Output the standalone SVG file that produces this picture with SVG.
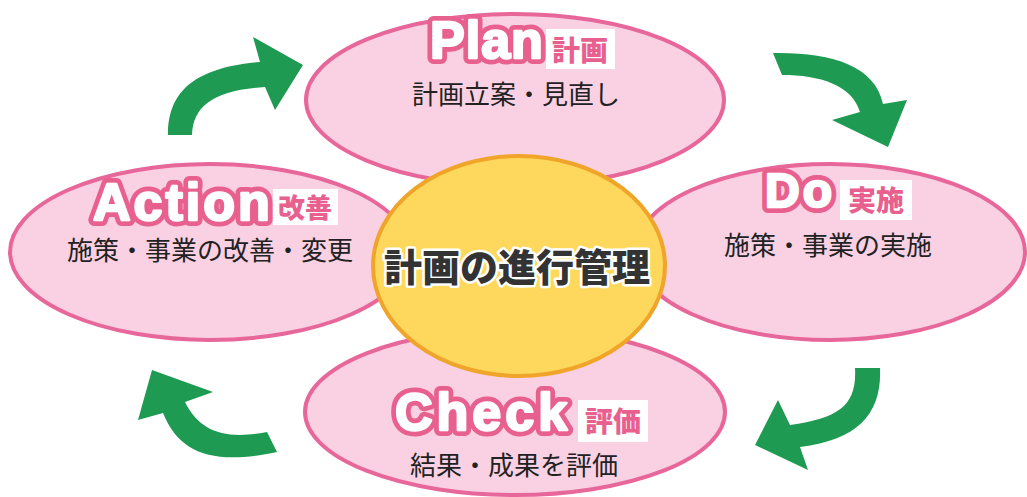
<svg xmlns="http://www.w3.org/2000/svg" width="1027" height="497" viewBox="0 0 1027 497">
<style>
.petal{fill:#f9d1e3;stroke:#e8679b;stroke-width:4}
.core{fill:#fdd85c;stroke:#f0a52a;stroke-width:4}
.en{font-family:"Liberation Sans",Arial,sans-serif;font-weight:bold;fill:#fff;stroke:#e8608e;stroke-width:12;stroke-linejoin:round}
.enw{font-family:"Liberation Sans",Arial,sans-serif;font-weight:bold;fill:#fff;stroke:#fff;stroke-width:2.5;stroke-linejoin:round}
.jbox{fill:#fff}
.jl{font-family:"Noto Sans CJK JP",sans-serif;font-weight:900;fill:#e8608e;text-anchor:middle}
.sub{font-family:"Noto Sans CJK JP",sans-serif;font-weight:400;fill:#222;text-anchor:middle;font-size:26px}
.ctr{font-family:"Noto Sans CJK JP",sans-serif;font-weight:900;fill:#333;stroke:#fff;stroke-width:5;stroke-linejoin:round;paint-order:stroke;text-anchor:middle;font-size:38px}
.arr{fill:#1e9a52}
</style>
<rect width="1027" height="497" fill="#fff"/>
<g id="plan">
<ellipse class="petal" cx="515" cy="100" rx="209" ry="86"/>
<text class="en" x="430" y="58" font-size="52" letter-spacing="1">Plan</text>
<text class="enw" x="430" y="58" font-size="52" letter-spacing="1">Plan</text>
<rect class="jbox" x="546" y="29" width="69" height="40"/>
<text class="jl" x="580" y="61" font-size="28">計画</text>
<text class="sub" x="516" y="104" font-size="28">計画立案・見直し</text>
</g>
<g id="action">
<ellipse class="petal" cx="210" cy="252" rx="200" ry="88"/>
<text class="en" x="93" y="220" font-size="52" letter-spacing="3">Action</text>
<text class="enw" x="93" y="220" font-size="52" letter-spacing="3">Action</text>
<rect class="jbox" x="273" y="189" width="65" height="36"/>
<text class="jl" x="305" y="218" font-size="27">改善</text>
<text class="sub" x="210" y="260">施策・事業の改善・変更</text>
</g>
<g id="do">
<ellipse class="petal" cx="830" cy="252" rx="195" ry="88"/>
<text class="en" x="765" y="207" font-size="48" letter-spacing="3">Do</text>
<text class="enw" x="765" y="207" font-size="48" letter-spacing="3">Do</text>
<rect class="jbox" x="840" y="180" width="72" height="40"/>
<text class="jl" x="876" y="211" font-size="28">実施</text>
<text class="sub" x="828" y="255">施策・事業の実施</text>
</g>
<g id="check">
<ellipse class="petal" cx="515" cy="412" rx="210" ry="83"/>
<text class="en" x="395" y="430" font-size="52" letter-spacing="4">Check</text>
<text class="enw" x="395" y="430" font-size="52" letter-spacing="4">Check</text>
<rect class="jbox" x="578" y="400" width="70" height="42"/>
<text class="jl" x="613" y="432" font-size="28">評価</text>
<text class="sub" x="514" y="475">結果・成果を評価</text>
</g>
<g id="center">
<ellipse class="core" cx="519" cy="266" rx="146" ry="110"/>
<text class="ctr" x="517" y="281">計画の進行管理</text>
</g>
<g id="connectors">
<path class="arr" d="M168,135 C168,95 190,68 260,62 L253,37 L303,65 L275,110 L265,87 C215,90 193,105 192,135 Z"/>
<path class="arr" d="M773,53 C830,52 875,65 883,104 L907,100 L888,147 L832,120 L860,112 C852,85 820,75 782,75 Z"/>
<path class="arr" d="M855,368 C857,405 840,418 790,425 L778,400 L755,445 L808,470 L800,447 C860,440 882,412 880,368 Z"/>
<path class="arr" d="M267,432 C225,440 200,432 185,402 L213,392 L152,370 L138,420 L163,413 C180,455 215,465 277,452 Z"/>
</g>
</svg>
